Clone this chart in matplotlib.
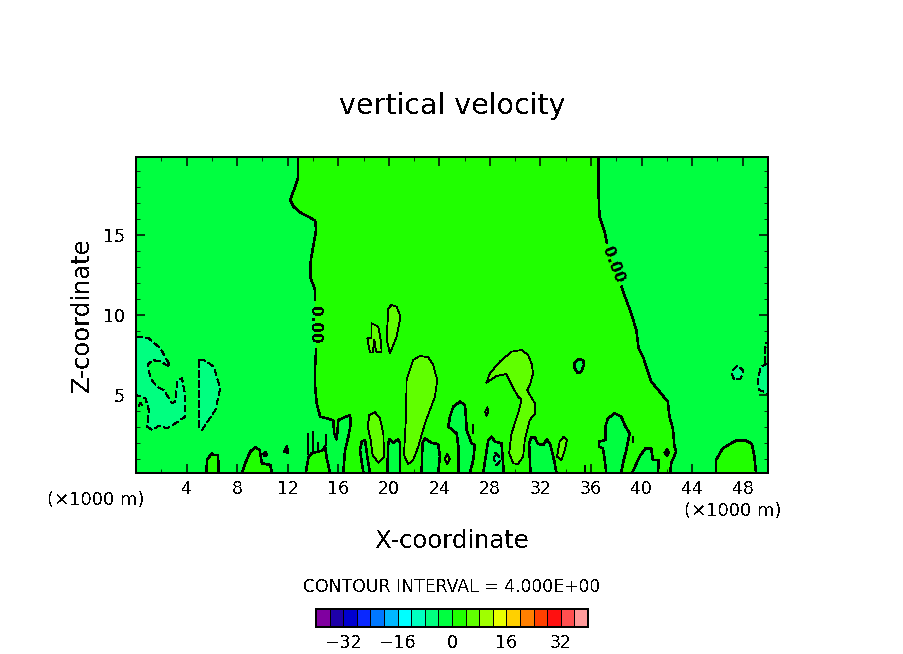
"""Vertical velocity section: filled contours with a level colour bar."""
import matplotlib

matplotlib.use("Agg")
import matplotlib.pyplot as plt
import numpy as np
from matplotlib.colors import BoundaryNorm, ListedColormap
from matplotlib.ticker import MultipleLocator

# colour bar
LEVELS = np.arange(-40, 41, 4)
LEVEL_COLORS = [
    "#8000a0", "#1e00a8", "#0000d0", "#0a28ff", "#0078ff", "#00b8ff", "#00ffff",
    "#00ffc0", "#00ff80", "#00ff40", "#20ff00", "#60ff00", "#a0ff00", "#e8ff00",
    "#ffd000", "#ff8000", "#ff4000", "#ff1010", "#ff5050", "#ff9a9a",
]
BAR_TICKS = [-32, -16, 0, 16, 32]
X_TICKS = list(range(4, 49, 4))
Z_TICKS = [5, 10, 15]

# zero contour, both long branches, split where the labels sit
ZERO_LEFT_UPPER = [
    (12.8, 19.875), (12.8, 18.54), (12.59, 18.02), (12.2, 17.19), (12.46, 16.77), (12.99, 16.41),
    (13.65, 16.14), (14.17, 15.89), (14.25, 15.31), (14.04, 14.37), (13.83, 13.44), (13.78, 12.39),
    (14.17, 11.56), (14.17, 10.94),
]
ZERO_LEFT_LOWER = [
    (14.25, 7.86), (14.17, 6.77), (14.17, 5.52), (14.3, 4.48), (14.57, 3.65), (15.09, 3.54),
    (15.62, 3.4), (15.67, 2.61), (15.88, 2.23), (16.01, 3.44), (16.93, 3.75), (17.0, 3.23),
    (16.8, 2.4), (16.54, 1.56), (16.4, 0.125),
]
ZERO_RIGHT_UPPER = [
    (36.59, 19.875), (36.59, 17.7), (36.67, 16.14), (37.07, 15.2), (37.25, 14.52),
]
ZERO_RIGHT_LOWER = [
    (38.41, 11.77), (38.78, 10.94), (39.18, 10.1), (39.58, 9.07), (39.76, 7.92), (40.16, 7.29),
    (40.5, 6.46), (40.76, 5.84), (41.42, 5.21), (42.08, 4.58), (42.2, 3.65), (42.47, 2.92),
    (42.6, 1.77), (42.73, 1.46), (42.34, 0.73), (42.26, 0.125),
]

# closed zero contours: values fall below zero inside these
ZERO_HOLES = [
    [(17.99, 0.125), (17.72, 1.56), (17.78, 1.77), (17.86, 2.09), (18.12, 2.19), (18.3, 1.15), (18.51, 0.125)],
    [(19.88, 0.125), (19.96, 2.0), (20.04, 2.23), (20.36, 2.02), (20.75, 2.23), (20.88, 2.02), (20.88, 0.125)],
    [(22.59, 0.125), (22.67, 2.02), (22.86, 2.29), (23.38, 2.0), (23.91, 1.94), (24.04, 1.15), (23.91, 0.125)],
    [(25.5, 0.125), (25.5, 1.77), (25.37, 2.6), (24.71, 3.02), (24.84, 3.65), (25.1, 4.27), (25.63, 4.59),
     (26.02, 4.38), (26.1, 3.65), (26.16, 2.81), (26.55, 1.98), (26.81, 1.88), (26.68, 0.94), (26.42, 0.125)],
    [(27.47, 0.125), (27.87, 2.19), (28.13, 2.4), (28.39, 2.09), (28.92, 1.98), (29.1, 0.125)],
    [(31.21, 0.125), (31.1, 1.98), (31.29, 2.36), (31.55, 2.36), (31.81, 1.94), (32.21, 1.88), (32.52, 2.23),
     (32.79, 1.88), (33.13, 0.73), (33.26, 0.125)],
    [(37.21, 0.125), (37.08, 0.94), (36.94, 1.67), (36.63, 1.77), (36.63, 2.09), (37.13, 2.19), (37.13, 3.02),
     (37.34, 3.54), (37.87, 3.86), (38.39, 3.65), (38.66, 3.13), (39.05, 2.6), (38.79, 1.56), (38.52, 0.73),
     (38.39, 0.125)],
    [(39.26, 0.125), (39.84, 1.15), (40.31, 1.67), (40.76, 1.67), (40.89, 0.94), (41.37, 0.94), (41.29, 0.125)],
    [(34.7, 6.98), (34.97, 7.23), (35.37, 7.19), (35.44, 6.88), (35.23, 6.46), (34.97, 6.36), (34.7, 6.67)],
    [(41.85, 1.4), (42.0, 1.6), (42.15, 1.4), (42.0, 1.2)],
]

# closed zero contours: values rise above zero inside these
ZERO_BUMPS = [
    [(5.57, 0.125), (5.62, 0.94), (6.01, 1.36), (6.14, 1.25), (6.49, 1.25), (6.54, 0.125)],
    [(8.38, 0.125), (8.64, 0.73), (9.04, 1.46), (9.43, 1.73), (9.78, 1.56), (9.96, 0.73), (10.62, 0.63), (10.75, 0.125)],
    [(13.43, 0.125), (13.65, 1.15), (13.91, 1.36), (14.7, 1.52), (14.96, 1.77), (15.09, 1.04), (15.36, 0.125)],
    [(45.89, 0.125), (45.89, 0.94), (46.42, 1.67), (47.08, 1.98), (47.47, 2.15), (48.26, 2.15), (48.73, 1.94),
     (48.92, 1.15), (49.05, 0.125)],
    [(10.1, 1.3), (10.25, 1.42), (10.35, 1.25), (10.18, 1.18)],
    [(11.72, 1.45), (11.95, 1.8), (12.0, 1.4)],
]

# very small zero contours, only a line wide
ZERO_SLIVERS = [
    [(13.57, 2.56), (13.57, 1.3)], [(13.99, 2.71), (13.99, 1.35)], [(14.43, 1.98), (14.43, 1.5)],
    [(15.04, 2.5), (15.04, 1.9)], [(26.68, 3.1), (26.68, 2.6)], [(39.3, 2.35), (39.3, 2.05)],
    [(35.5, 0.125), (35.5, 0.55)],
]

# +4 contour
PLUS4_AREAS = [
    [(21.54, 0.69), (21.2, 1.25), (21.36, 3.65), (21.41, 5.94), (21.93, 7.19), (22.46, 7.44), (23.12, 7.36),
     (23.51, 6.88), (23.83, 5.94), (23.65, 4.9), (22.86, 3.23), (22.33, 1.77), (21.93, 0.94)],
    [(19.17, 0.77), (18.72, 1.25), (18.57, 2.19), (18.33, 3.02), (18.46, 3.75), (18.91, 3.92), (19.3, 3.54),
     (19.57, 2.6), (19.62, 1.15)],
    [(20.09, 7.61), (19.83, 8.44), (19.96, 10.42), (20.22, 10.63), (20.62, 10.52), (20.93, 9.9), (20.62, 8.65)],
    [(18.64, 9.48), (19.17, 9.27), (19.36, 8.44), (19.43, 7.71), (18.99, 7.71), (18.86, 8.44), (18.72, 7.65),
     (18.51, 7.65), (18.3, 8.54), (18.64, 8.54)],
    [(24.43, 1.0), (24.63, 1.31), (24.83, 1.0), (24.63, 0.69)],
    [(27.73, 5.77), (28.0, 6.36), (28.79, 7.09), (29.71, 7.71), (30.5, 7.81), (31.02, 7.5), (31.29, 6.98),
     (31.42, 6.36), (31.16, 5.63), (30.94, 5.31), (31.55, 4.48), (31.6, 3.86), (31.16, 3.44), (30.76, 2.19),
     (30.63, 1.15), (30.23, 0.69), (29.84, 0.73), (29.52, 1.36), (29.71, 2.6), (30.23, 3.86), (30.5, 4.69),
     (30.23, 4.9), (29.71, 5.63), (29.31, 6.31), (28.52, 6.19)],
    [(27.63, 3.96), (27.79, 4.23), (27.89, 3.96), (27.73, 3.71)],
    [(33.31, 1.15), (33.52, 2.09), (33.84, 2.4), (34.1, 2.19), (33.92, 1.56), (33.66, 0.94)],
]

# -4 contour, dashed
MINUS4_AREAS = [
    [(0, 8.65), (1.01, 8.54), (1.93, 7.92), (2.59, 6.98), (2.67, 6.77), (1.93, 7.09), (1.28, 7.19), (0.93, 6.88),
     (1.14, 6.04), (1.67, 5.52), (2.2, 5.31), (2.86, 4.48), (3.12, 4.58), (3.25, 5.94), (3.64, 6.04), (3.91, 4.9),
     (3.91, 3.65), (3.12, 3.23), (2.46, 2.92), (1.8, 3.07), (1.28, 2.81), (0.88, 3.02), (1.01, 4.07), (0.75, 4.79),
     (0, 5.0)],
    [(4.96, 7.19), (5.49, 7.15), (6.14, 6.77), (6.67, 5.42), (6.28, 4.07), (5.22, 2.81), (4.96, 3.02)],
    [(47.21, 6.56), (47.6, 6.84), (48.05, 6.52), (47.87, 6.04), (47.34, 5.94), (47.16, 6.25)],
    [(50, 6.98), (49.44, 6.77), (49.18, 5.94), (49.31, 5.31), (50, 5.11)],
    [(28.39, 1.4), (28.73, 1.15), (28.78, 0.85), (28.52, 0.6), (28.34, 0.95)],
]
MINUS4_LINES = [[(49.8, 6.98), (49.8, 8.2), (50, 8.3)], [(0.2, 4.3), (0.35, 4.5), (0.5, 4.3)]]

plt.rcParams["font.family"] = "DejaVu Sans"
plt.rcParams["lines.antialiased"] = False
plt.rcParams["patch.antialiased"] = False
plt.rcParams["text.antialiased"] = False

W, H = 904, 654
BLACK = "black"
THICK = 1.1
THIN = 0.55
DASHES = (0, (8, 4))


def pixel_box(left, top, right, bottom):
    return [left / W, 1 - bottom / H, (right - left) / W, (bottom - top) / H]


def label(x, y, text, **kw):
    kw.setdefault("ha", "center")
    kw.setdefault("va", "center")
    fig.text(x / W, 1 - y / H, text, color=BLACK, **kw)


def color_of(value):
    return LEVEL_COLORS[np.searchsorted(LEVELS, value, side="right") - 1]


def draw_area(ax, outline, value, lw, ls="-"):
    xs, zs = zip(*(outline + outline[:1]))
    ax.fill(xs, zs, color=color_of(value), lw=0, zorder=2)
    ax.plot(xs, zs, color=BLACK, lw=lw, ls=ls, zorder=3)


fig = plt.figure(figsize=(W / 100, H / 100), dpi=100, facecolor="white")
ax = fig.add_axes(pixel_box(136, 157, 768, 473))
ax.set_facecolor(color_of(-2))

mid_region = ZERO_LEFT_UPPER + ZERO_LEFT_LOWER + ZERO_RIGHT_LOWER[::-1] + ZERO_RIGHT_UPPER[::-1]
ax.fill(*zip(*mid_region), color=color_of(2), lw=0, zorder=1)
for branch in [ZERO_LEFT_UPPER, ZERO_LEFT_LOWER, ZERO_RIGHT_UPPER, ZERO_RIGHT_LOWER]:
    ax.plot(*zip(*branch), color=BLACK, lw=THICK, zorder=3)

for outline in ZERO_HOLES:
    draw_area(ax, outline, -2, THICK)
for outline in ZERO_BUMPS:
    draw_area(ax, outline, 2, THICK)
for line in ZERO_SLIVERS:
    ax.plot(*zip(*line), color=BLACK, lw=THICK, zorder=3)
for outline in PLUS4_AREAS:
    draw_area(ax, outline, 6, THIN)
for outline in MINUS4_AREAS:
    draw_area(ax, outline, -6, THIN, ls=DASHES)
for line in MINUS4_LINES:
    ax.plot(*zip(*line), color=BLACK, lw=THIN, ls=DASHES, zorder=3)

ax.text(14.17, 9.38, "0.00", rotation=-90, fontsize=11, fontweight="bold", ha="center", va="center", zorder=4)
ax.text(37.78, 13.12, "0.00", rotation=-69, fontsize=11, fontweight="bold", ha="center", va="center",
        rotation_mode="anchor", zorder=4)

ax.set_xlim(0, 50)
ax.set_ylim(0.125, 19.875)
ax.set_xticks(X_TICKS)
ax.set_yticks(Z_TICKS)
ax.xaxis.set_minor_locator(MultipleLocator(2))
ax.yaxis.set_minor_locator(MultipleLocator(1))
ax.tick_params(which="major", direction="in", top=True, right=True, length=6.5, width=1.1,
               labelsize=12.5, pad=5, zorder=5)
ax.tick_params(axis="y", which="major", pad=8)
ax.tick_params(which="minor", direction="in", top=True, right=True, length=3, width=0.55)
for spine in ax.spines.values():
    spine.set_linewidth(1.1)
    spine.set_zorder(6)

label(452, 106, "vertical velocity", fontsize=20.5)
label(82, 315, "Z-coordinate", fontsize=17.5, rotation=90)
label(452, 541, "X-coordinate", fontsize=17.5)
label(96, 500, "(×1000 m)", fontsize=13)
label(733, 511, "(×1000 m)", fontsize=13)
label(452, 587, "CONTOUR INTERVAL = 4.000E+00", fontsize=12.4)

cax = fig.add_axes(pixel_box(316, 609, 588, 627))
cmap = ListedColormap(LEVEL_COLORS)
cax.pcolormesh(LEVELS, [0, 1], (LEVELS[:-1] + 2)[np.newaxis, :], cmap=cmap,
               norm=BoundaryNorm(LEVELS, cmap.N), edgecolors=BLACK, linewidth=0.6)
cax.set_yticks([])
cax.set_xticks(BAR_TICKS, [str(v).replace("-", "−") for v in BAR_TICKS])
cax.tick_params(axis="x", length=0, labelsize=12.5, pad=5)
for spine in cax.spines.values():
    spine.set_linewidth(1.1)

fig.savefig("out.png", dpi=100)
